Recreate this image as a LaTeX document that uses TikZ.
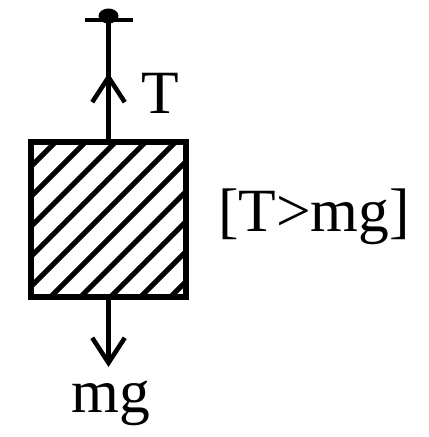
\documentclass[tikz,border=0pt]{standalone}
\usepackage{fontspec}
\setmainfont{Liberation Serif}
\usetikzlibrary{arrows.meta}

\tikzset{
  force/.style={line width=2.6pt, -{Straight Barb[length=5mm, width=6.5mm, line width=2.6pt]}},
  lbl/.style={font=\fontsize{35}{40}\selectfont, inner sep=0pt}
}

\begin{document}
\begin{tikzpicture}
  \useasboundingbox (0,0) rectangle (8.58,8.74);
  \node[draw, line width=3.2pt, minimum size=3.1cm, inner sep=0pt] (block) at (2.17,4.35) {};
  \begin{scope}
    \clip (block.south west) rectangle (block.north east);
    \foreach \d in {0,...,9}
      \draw[line width=3pt] (0.62-2.61+0.6*\d, 2.80) -- ++(3.1,3.1);
  \end{scope}
  \coordinate (hook) at (2.17,8.34);
  \coordinate (tip) at (2.17,7.28);
  \coordinate (weight) at (2.17,1.40);
  \draw[line width=2.8pt] ([xshift=-0.48cm]hook) -- ([xshift=0.48cm]hook);
  \fill ([yshift=0.08cm]hook) ellipse (0.2 and 0.15);
  \draw[line width=2.6pt] (block.north) -- (hook);
  \draw[force] (block.north) -- (tip);
  \draw[force] (block.south) -- (weight);
  \node[lbl, anchor=base] (tlabel) at (3.20,6.46) {T};
  \node[lbl, anchor=base] (mglabel) at (2.22,0.50) {mg};
  \node[lbl, anchor=base] (cond) at (6.28,4.10) {[T>mg]};
\end{tikzpicture}
\end{document}
